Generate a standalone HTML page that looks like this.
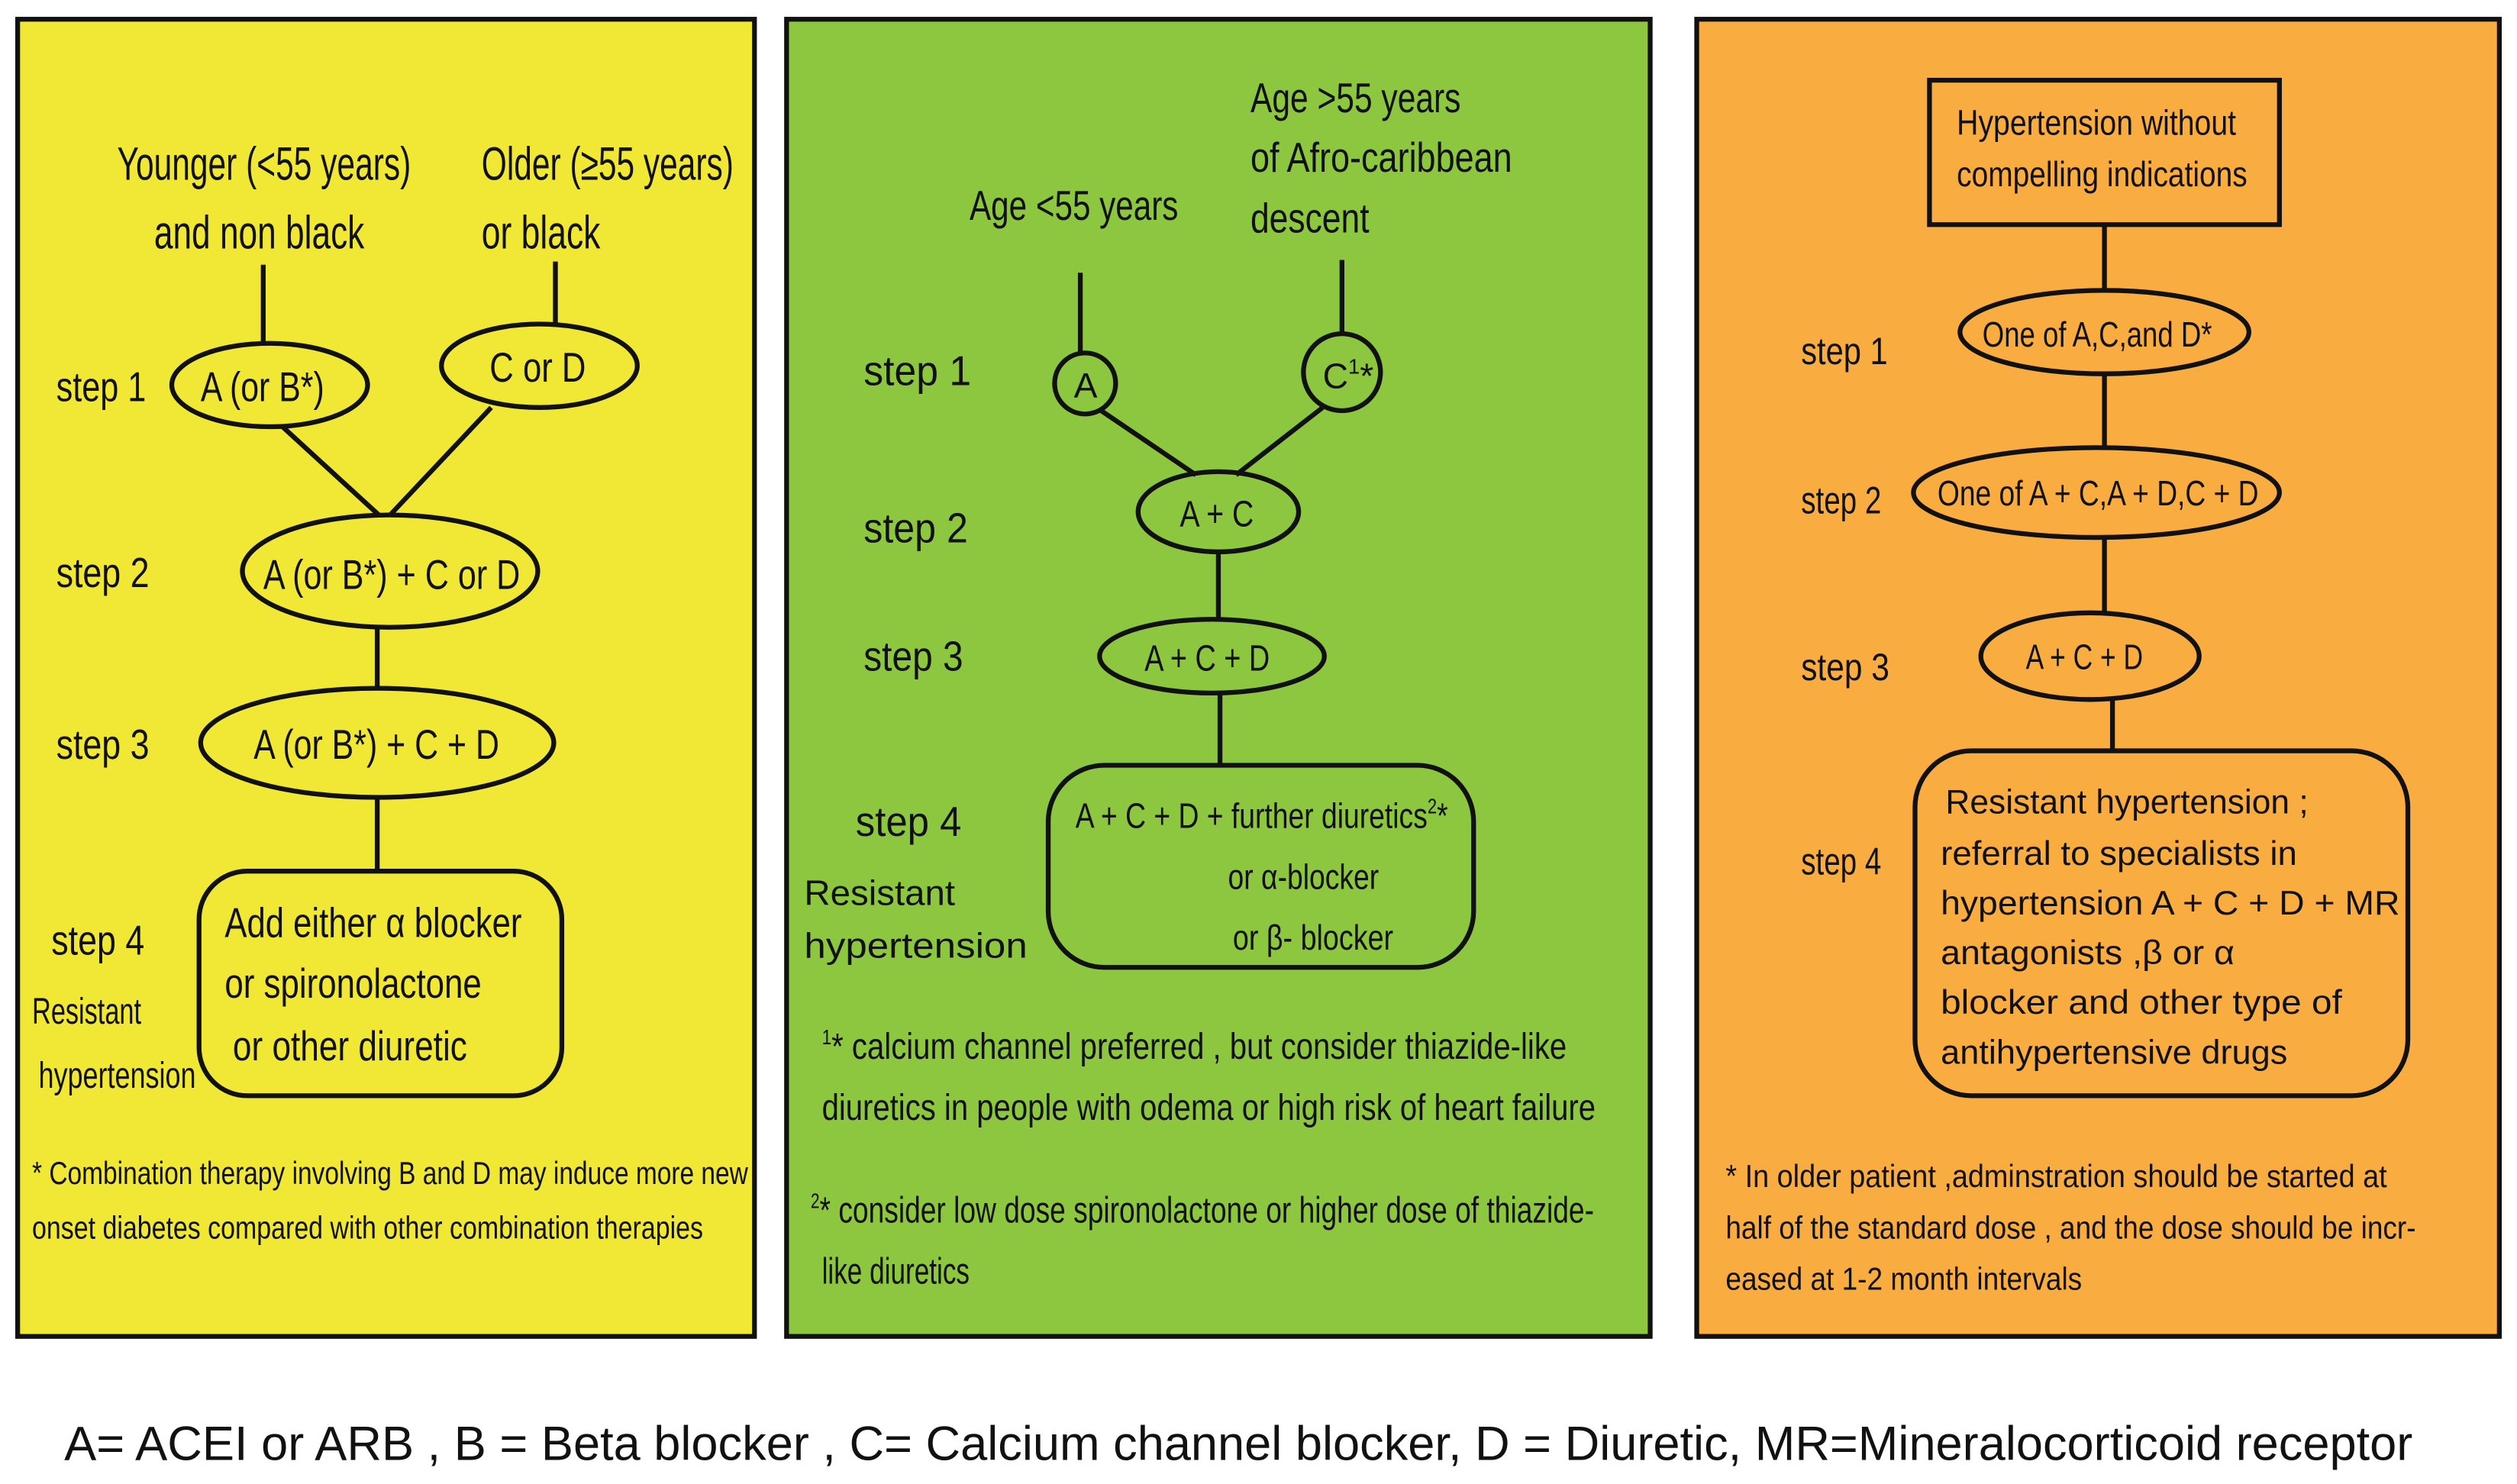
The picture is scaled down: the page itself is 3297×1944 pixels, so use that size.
<!DOCTYPE html>
<html><head><meta charset="utf-8"><style>
html,body{margin:0;padding:0;background:#fff}
svg{display:block}
text{font-family:"Liberation Sans Narrow","Liberation Sans",sans-serif;fill:#111}
.r{font-family:"Liberation Sans",sans-serif}
</style></head><body>
<svg width="3297" height="1944" viewBox="0 0 1568 925" preserveAspectRatio="none" xmlns="http://www.w3.org/2000/svg">
<g stroke="#111" stroke-width="3" fill="none">
<rect x="11" y="12" width="459" height="821" fill="#f0e834"/>
<rect x="490" y="12" width="538" height="821" fill="#8dc63f"/>
<rect x="1057" y="12" width="500" height="821" fill="#f9ac40"/>
<line x1="164" y1="165" x2="164" y2="214"/><line x1="346" y1="163" x2="346" y2="203"/>
<ellipse cx="168" cy="240" rx="61" ry="26"/><ellipse cx="336" cy="228" rx="61" ry="26"/>
<line x1="176" y1="266" x2="236" y2="321"/><line x1="306" y1="254" x2="243" y2="321"/>
<ellipse cx="243" cy="356" rx="92" ry="35"/>
<line x1="235" y1="391" x2="235" y2="429"/>
<ellipse cx="235" cy="463" rx="110" ry="34"/>
<line x1="235" y1="497" x2="235" y2="543"/>
<rect x="124" y="543" width="226" height="140" rx="30"/>
<line x1="673" y1="170" x2="673" y2="220"/><line x1="836" y1="162" x2="836" y2="208"/>
<circle cx="676" cy="239" r="19"/><circle cx="836" cy="232" r="24"/>
<line x1="686" y1="256" x2="745" y2="296"/><line x1="824" y1="254" x2="770" y2="296"/>
<ellipse cx="759" cy="319" rx="50" ry="25"/>
<line x1="759" y1="344" x2="759" y2="386"/>
<ellipse cx="755" cy="409" rx="70" ry="23"/>
<line x1="760" y1="432" x2="760" y2="477"/>
<rect x="653" y="477" width="265" height="126" rx="35"/>
<rect x="1202" y="50" width="218" height="90"/>
<line x1="1311" y1="140" x2="1311" y2="181"/>
<ellipse cx="1311" cy="207" rx="90" ry="26"/>
<line x1="1311" y1="233" x2="1311" y2="279"/>
<ellipse cx="1306" cy="307" rx="114" ry="28"/>
<line x1="1311" y1="335" x2="1311" y2="382"/>
<ellipse cx="1302" cy="409" rx="68" ry="27"/>
<line x1="1316" y1="436" x2="1316" y2="468"/>
<rect x="1193" y="468" width="307" height="215" rx="35"/>
</g>
<g font-size="29">
<text x="73" y="112" textLength="183" lengthAdjust="spacingAndGlyphs">Younger (&lt;55 years)</text>
<text x="96" y="155" textLength="131" lengthAdjust="spacingAndGlyphs">and non black</text>
<text x="300" y="112" textLength="157" lengthAdjust="spacingAndGlyphs">Older (≥55 years)</text>
<text x="300" y="155" textLength="74" lengthAdjust="spacingAndGlyphs">or black</text>
</g>
<g font-size="26">
<text x="35" y="250" textLength="56" lengthAdjust="spacingAndGlyphs">step 1</text>
<text x="35" y="366" textLength="58" lengthAdjust="spacingAndGlyphs">step 2</text>
<text x="35" y="473" textLength="58" lengthAdjust="spacingAndGlyphs">step 3</text>
<text x="32" y="595" textLength="58" lengthAdjust="spacingAndGlyphs">step 4</text>
<text x="125" y="250" textLength="77" lengthAdjust="spacingAndGlyphs">A (or B*)</text>
<text x="305" y="238" textLength="60" lengthAdjust="spacingAndGlyphs">C or D</text>
<text x="164" y="367" textLength="160" lengthAdjust="spacingAndGlyphs">A (or B*) + C or D</text>
<text x="158" y="473" textLength="153" lengthAdjust="spacingAndGlyphs">A (or B*) + C + D</text>
<text x="140" y="584" textLength="185" lengthAdjust="spacingAndGlyphs">Add either α blocker</text>
<text x="140" y="622" textLength="160" lengthAdjust="spacingAndGlyphs">or spironolactone</text>
<text x="145" y="661" textLength="146" lengthAdjust="spacingAndGlyphs">or other diuretic</text>
</g>
<g font-size="23">
<text x="20" y="638" textLength="68" lengthAdjust="spacingAndGlyphs">Resistant</text>
<text x="24" y="678" textLength="98" lengthAdjust="spacingAndGlyphs">hypertension</text>
</g>
<g font-size="20">
<text x="20" y="738" textLength="446" lengthAdjust="spacingAndGlyphs">* Combination therapy involving B and D may induce more new</text>
<text x="20" y="772" textLength="418" lengthAdjust="spacingAndGlyphs">onset diabetes compared with other combination therapies</text>
</g>
<g font-size="26">
<text x="779" y="70" textLength="131" lengthAdjust="spacingAndGlyphs">Age &gt;55 years</text>
<text x="779" y="107" textLength="163" lengthAdjust="spacingAndGlyphs">of Afro-caribbean</text>
<text x="779" y="145" textLength="74" lengthAdjust="spacingAndGlyphs">descent</text>
<text x="604" y="137" textLength="130" lengthAdjust="spacingAndGlyphs">Age &lt;55 years</text>
<text x="538" y="240" textLength="67" lengthAdjust="spacingAndGlyphs">step 1</text>
<text x="538" y="338" textLength="65" lengthAdjust="spacingAndGlyphs">step 2</text>
<text x="538" y="418" textLength="62" lengthAdjust="spacingAndGlyphs">step 3</text>
<text x="533" y="521" textLength="66" lengthAdjust="spacingAndGlyphs">step 4</text>
<text x="669" y="248" font-size="22">A</text>
<text x="824" y="242" font-size="22">C<tspan font-size="13" dy="-9">1</tspan><tspan dy="9">*</tspan></text>
<text x="735" y="328" font-size="23" textLength="46" lengthAdjust="spacingAndGlyphs">A + C</text>
<text x="713" y="418" font-size="23" textLength="78" lengthAdjust="spacingAndGlyphs">A + C + D</text>
</g>
<g font-size="22">
<text x="670" y="516" textLength="232" lengthAdjust="spacingAndGlyphs">A + C + D + further diuretics<tspan font-size="13" dy="-9">2</tspan><tspan dy="9">*</tspan></text>
<text x="765" y="554" textLength="94" lengthAdjust="spacingAndGlyphs">or α-blocker</text>
<text x="768" y="592" textLength="100" lengthAdjust="spacingAndGlyphs">or β- blocker</text>
</g>
<g class="r" font-size="22">
<text class="r" x="501" y="564" textLength="94" lengthAdjust="spacingAndGlyphs">Resistant</text>
<text class="r" x="501" y="597" textLength="139" lengthAdjust="spacingAndGlyphs">hypertension</text>
</g>
<g font-size="23">
<text x="512" y="660" textLength="464" lengthAdjust="spacingAndGlyphs"><tspan font-size="13" dy="-9">1</tspan><tspan dy="9">* calcium channel preferred  , but consider thiazide-like</tspan></text>
<text x="512" y="698" textLength="482" lengthAdjust="spacingAndGlyphs">diuretics in people with odema or high risk of heart failure</text>
<text x="505" y="762" textLength="488" lengthAdjust="spacingAndGlyphs"><tspan font-size="13" dy="-9">2</tspan><tspan dy="9">* consider low dose spironolactone or higher dose of thiazide-</tspan></text>
<text x="512" y="800" textLength="92" lengthAdjust="spacingAndGlyphs">like diuretics</text>
</g>
<g font-size="22">
<text x="1219" y="84" textLength="174" lengthAdjust="spacingAndGlyphs">Hypertension without</text>
<text x="1219" y="116" textLength="181" lengthAdjust="spacingAndGlyphs">compelling indications</text>
<text x="1235" y="216" textLength="143" lengthAdjust="spacingAndGlyphs">One of A,C,and D*</text>
<text x="1207" y="315" textLength="200" lengthAdjust="spacingAndGlyphs">One of A + C,A + D,C + D</text>
<text x="1262" y="417" textLength="73" lengthAdjust="spacingAndGlyphs">A + C + D</text>
</g>
<g font-size="24">
<text x="1122" y="227" textLength="54" lengthAdjust="spacingAndGlyphs">step 1</text>
<text x="1122" y="320" textLength="50" lengthAdjust="spacingAndGlyphs">step 2</text>
<text x="1122" y="424" textLength="55" lengthAdjust="spacingAndGlyphs">step 3</text>
<text x="1122" y="545" textLength="50" lengthAdjust="spacingAndGlyphs">step 4</text>
</g>
<g font-size="21">
<text class="r" x="1212" y="507" textLength="226" lengthAdjust="spacingAndGlyphs">Resistant hypertension ;</text>
<text class="r" x="1209" y="539" textLength="222" lengthAdjust="spacingAndGlyphs">referral to specialists in</text>
<text class="r" x="1209" y="570" textLength="286" lengthAdjust="spacingAndGlyphs">hypertension A + C + D + MR</text>
<text class="r" x="1209" y="601" textLength="183" lengthAdjust="spacingAndGlyphs">antagonists ,β or α</text>
<text class="r" x="1209" y="632" textLength="250" lengthAdjust="spacingAndGlyphs">blocker and other type of</text>
<text class="r" x="1209" y="663" textLength="216" lengthAdjust="spacingAndGlyphs">antihypertensive drugs</text>
</g>
<g font-size="20">
<text x="1075" y="740" textLength="412" lengthAdjust="spacingAndGlyphs">* In older patient ,adminstration should be started at</text>
<text x="1075" y="772" textLength="430" lengthAdjust="spacingAndGlyphs">half of the standard dose , and the dose should be incr-</text>
<text x="1075" y="804" textLength="222" lengthAdjust="spacingAndGlyphs">eased at 1-2 month intervals</text>
</g>
<text class="r" x="40" y="910" font-size="30" textLength="1463" lengthAdjust="spacingAndGlyphs">A= ACEI or ARB , B = Beta blocker , C= Calcium channel blocker, D = Diuretic, MR=Mineralocorticoid receptor</text>
</svg>
</body></html>
